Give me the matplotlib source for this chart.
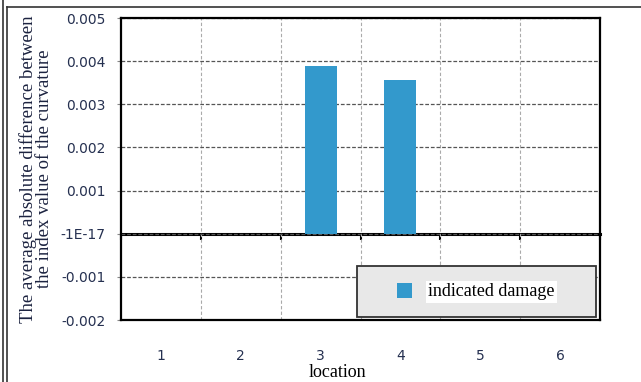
import numpy as np
import matplotlib
matplotlib.use('Agg')
import matplotlib.pyplot as plt
from matplotlib.lines import Line2D
from matplotlib.patches import Rectangle
from matplotlib.container import BarContainer
from matplotlib.legend_handler import HandlerPatch
from matplotlib.ticker import FixedLocator, FixedFormatter

locations = [1, 2, 3, 4, 5, 6]
damage = [0.0, 0.0, 0.00389, 0.00357, 0.0, 0.0]
ytick_vals = [-0.002, -0.001, 0.0, 0.001, 0.002, 0.003, 0.004, 0.005]
ytick_labels = ['-0.002', '-0.001', '-1E-17', '0.001', '0.002', '0.003', '0.004', '0.005']

bar_color = '#3399cc'
tick_color = '#253050'
serif = ['Liberation Serif', 'DejaVu Serif']

fig = plt.figure(figsize=(6.41, 3.82), dpi=100)
ax = fig.add_axes([121/641, 1 - 320/382, 479/641, 302/382])

ax.bar(locations, damage, width=0.4, color=bar_color, zorder=3, label='indicated damage')

ax.set_xlim(0.5, 6.5)
ax.set_ylim(-0.002, 0.005)

ax.yaxis.set_major_locator(FixedLocator(ytick_vals))
ax.yaxis.set_major_formatter(FixedFormatter(ytick_labels))
ax.set_xticks(locations)
ax.set_xticks(np.arange(1.5, 6.5, 1.0), minor=True)

ax.tick_params(axis='y', length=3, width=0.8, color='#888888', pad=8,
               labelsize=10, labelcolor=tick_color)
ax.tick_params(axis='x', which='major', length=0, pad=21,
               labelsize=10, labelcolor=tick_color)
ax.tick_params(axis='x', which='minor', length=0)

ax.grid(axis='y', which='major', linestyle=(0, (3, 1.5)), color='#555555', linewidth=0.9, zorder=0)
ax.grid(axis='x', which='minor', linestyle=(0, (3, 2)), color='#aaaaaa', linewidth=0.8, zorder=0)

for sp in ax.spines.values():
    sp.set_linewidth(1.6)
    sp.set_color('black')

# zero axis line with small category boundary ticks
sec = ax.secondary_xaxis(2/7)
sec.set_xticks(np.arange(0.5, 7.0, 1.0))
sec.tick_params(axis='x', direction='out', length=4, width=1.5, color='black',
                labelbottom=False, labeltop=False)
sec.spines['bottom'].set_linewidth(2.2)
sec.spines['bottom'].set_zorder(4)

for lab in ax.get_yticklabels() + ax.get_xticklabels():
    lab.set_fontfamily('DejaVu Sans')

ax.set_ylabel('The average absolute difference between\nthe index value of the curvature',
              fontsize=13.5, family=serif, color='#1c2340', linespacing=0.9)
ax.yaxis.set_label_coords(-0.142, 0.5)
ax.set_xlabel('location', fontsize=13, family=serif, color='black')
ax.xaxis.set_label_coords(0.451, -0.146)


# square legend marker sitting at the right end of the handle box
def square_right(legend, orig_handle, xdescent, ydescent, width, height, fontsize):
    s = 10.8
    return Rectangle((-xdescent + width - s, -ydescent + (height - s) / 2), s, s)


def from_first_bar(legend_handle, orig_handle):
    legend_handle.update_from(orig_handle[0])


leg = ax.legend(loc='lower left', bbox_to_anchor=(0.4927, 0.0099, 0.4993, 0.1788),
                mode='expand', fancybox=False, shadow=False, frameon=True,
                prop={'family': serif, 'size': 13}, borderpad=0.92,
                handlelength=2.13, handleheight=0.85, handletextpad=0.89,
                borderaxespad=0,
                handler_map={BarContainer: HandlerPatch(patch_func=square_right,
                                                        update_func=from_first_bar)})
leg.get_frame().set_facecolor('#e8e8e8')
leg.get_frame().set_edgecolor('#333333')
leg.get_frame().set_linewidth(1.3)
leg.get_frame().set_alpha(1)
leg.set_zorder(5)
for t in leg.get_texts():
    t.set_bbox(dict(facecolor='white', edgecolor='none', pad=1.5))

# outer page frame
fig.add_artist(Line2D([7/641, 1], [1 - 7/382, 1 - 7/382], transform=fig.transFigure, color='#333333', lw=1.2))
fig.add_artist(Line2D([7/641, 7/641], [0, 1 - 7/382], transform=fig.transFigure, color='#333333', lw=1.2))
fig.add_artist(Line2D([2.5/641, 2.5/641], [0, 1], transform=fig.transFigure, color='#333333', lw=1.2))

fig.savefig('out.png', dpi=100)
